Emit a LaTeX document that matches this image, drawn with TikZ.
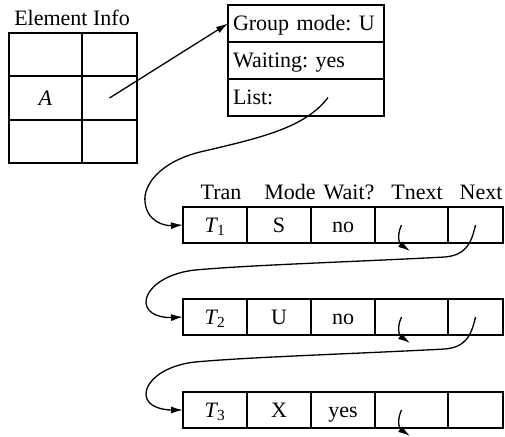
\documentclass[tikz,border=0pt]{standalone}
\usepackage{fontspec}
\setmainfont{Liberation Serif}
\usetikzlibrary{arrows.meta}
\newcommand{\tsub}[1]{\textit{T}\kern-1pt\textsubscript{#1}}

\begin{document}
\frenchspacing
\begin{tikzpicture}[x=1pt,y=-1pt,
  every node/.style={font=\fontsize{22}{26}\selectfont},
  cell/.style={draw,line width=1.3pt,anchor=north west,inner sep=0pt,outer sep=0pt,
    text height=15pt,text depth=1pt},
  ptr/.style={line width=1.3pt,-{Latex[length=12pt,width=7pt]}}]
  \useasboundingbox (0,0) rectangle (505,436);
  % element info table
  \node (info) at (72,18) {Element Info};
  \foreach \i/\y/\h/\txt in {1/33/43/{},2/76/44/\textit{A},3/120/43/{}} {
    \node[cell,minimum width=73pt,minimum height=\h pt] (e\i1) at (9,\y) {\txt};
    \node[cell,minimum width=55pt,minimum height=\h pt] (e\i2) at (82,\y) {};
  }
  % lock entry
  \foreach \n/\y/\txt in {gmode/5/Group mode: U,gwait/42/Waiting: yes,glist/79/List:}
    \node[cell,minimum width=156pt,minimum height=37pt,text width=146pt,
      inner xsep=5pt,align=left] (\n) at (228,\y) {\txt};
  \draw[ptr] (e22.center) -- (gmode.west);
  % column heads
  \foreach \n/\x/\txt in {htran/221/Tran,hmode/290/Mode,hwait/349/Wait?,htnext/417/Tnext,hnext/481/Next}
    \node[anchor=base] (\n) at (\x,199) {\txt};
  % transaction list
  \foreach \r/\y/\t/\m/\w in {1/207/1/S/no,2/299/2/U/no,3/392/3/X/yes} {
    \node[cell,minimum width=64pt,minimum height=36pt] (tran\r) at (183,\y) {\tsub{\t}};
    \node[cell,minimum width=64pt,minimum height=36pt] (mode\r) at (247,\y) {\m};
    \node[cell,minimum width=64pt,minimum height=36pt] (wait\r) at (311,\y) {\w};
    \node[cell,minimum width=73pt,minimum height=36pt] (tnext\r) at (375,\y) {};
    \node[cell,minimum width=55pt,minimum height=36pt] (next\r) at (448,\y) {};
    \coordinate (nil\r) at (410,\y+44);
    \draw[ptr] ([xshift=-10pt]tnext\r.center) .. controls (396,\y+30) and (400,\y+37) .. (nil\r);
  }
  \draw[ptr] ([xshift=22pt]glist.center) .. controls (305,128) and (260,138) .. (200,152)
    .. controls (160,162) and (143,185) .. (145,202)
    .. controls (147,222) and (165,226) .. (tran1.west);
  \foreach \r/\s/\y in {1/2/207,2/3/299}
    \draw[ptr] (next\r.center) .. controls (471,\y+38) and (465,\y+48) .. (445,\y+50)
      .. controls (350,\y+55) and (250,\y+58) .. (195,\y+63)
      .. controls (160,\y+67) and (145,\y+85) .. (146,\y+96)
      .. controls (147,\y+108) and (163,\y+111) .. (tran\s.west);
\end{tikzpicture}
\end{document}
